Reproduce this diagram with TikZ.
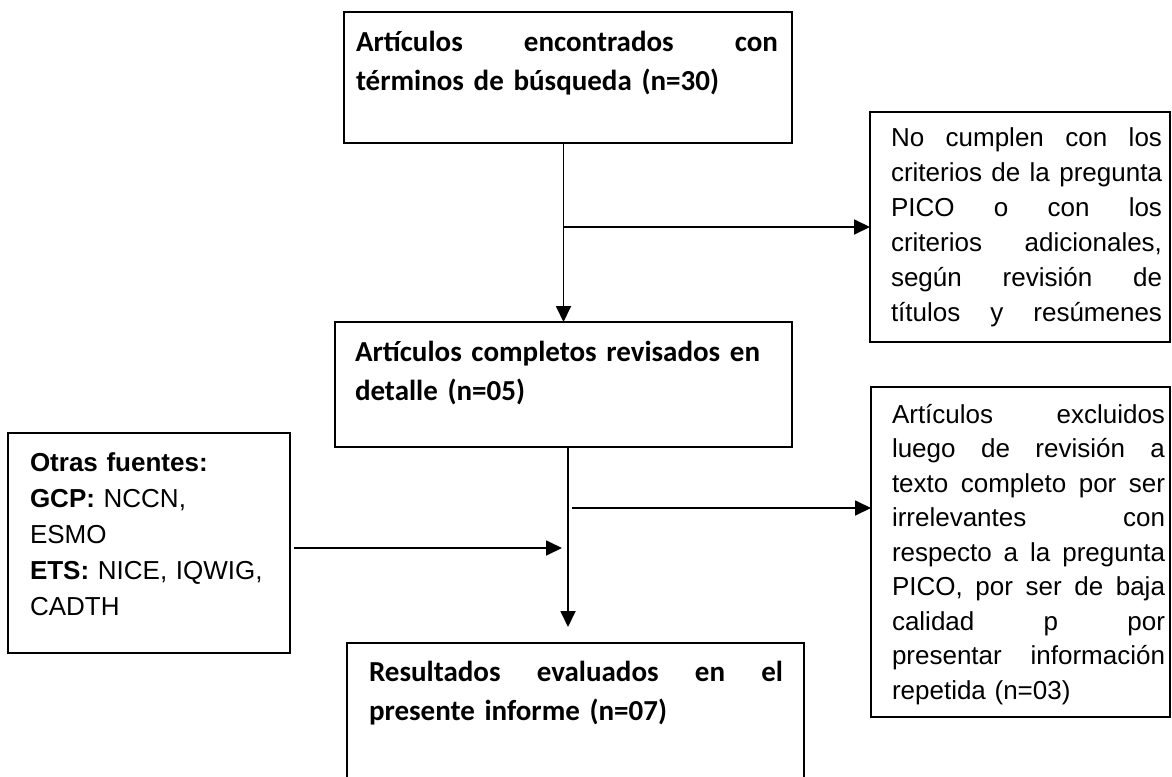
\documentclass[tikz,border=0pt]{standalone}
\usepackage{fontspec}
\setmainfont{Liberation Sans}
\newfontfamily\calibri{Carlito}
\usetikzlibrary{arrows.meta}
\newcommand{\jl}[2]{\leavevmode\hbox to #1{\strut #2}}
\begin{document}
\begin{tikzpicture}[x=1pt,y=-1pt,
  box/.style={draw, line width=1.8pt, rectangle, inner sep=0pt, outer sep=0pt, anchor=north west},
  arr/.style={line width=1.8pt, -{Triangle[length=16pt,width=15pt]}},
  txt/.style={anchor=north west, inner sep=0pt, outer sep=0pt, align=left},
  boldtxt/.style={txt, font=\calibri\bfseries\fontsize{29}{39}\selectfont},
  plaintxt/.style={txt, font=\fontsize{26}{35}\selectfont}]
\useasboundingbox (0,0) rectangle (1172,776);
\fill[white] (0,0) rectangle (1172,776);
\clip (0,0) rectangle (1172,776);
% boxes
\node[box, minimum width=448pt, minimum height=131pt] (b1) at (344,12) {};
\node[box, minimum width=457pt, minimum height=125pt] (b2) at (335,322) {};
\node[box, minimum width=457pt, minimum height=170pt] (b3) at (347,643) {};
\node[box, minimum width=300pt, minimum height=230pt] (r1) at (870,112) {};
\node[box, minimum width=299pt, minimum height=330pt] (r2) at (871,387) {};
\node[box, minimum width=282pt, minimum height=220pt] (o) at (8,433) {};
% texts
\node[boldtxt, text width=424pt] (t1) at (356,24.7)
  {\jl{422pt}{Artículos\hfill encontrados\hfill con}\\términos de búsqueda (n=30)};
\node[boldtxt, text width=440pt] (t2) at (355,333.7)
  {\strut Artículos completos revisados en\\detalle (n=05)};
\node[boldtxt, text width=420pt] (t3) at (369,653.7)
  {\jl{414pt}{Resultados\hfill evaluados\hfill en\hfill el}\\presente informe (n=07)};
\node[plaintxt, text width=275pt] (tr1) at (891,122)
  {\jl{271pt}{No\hfill cumplen\hfill con\hfill los}\\
   \jl{271pt}{criterios\hfill de\hfill la\hfill pregunta}\\
   \jl{271pt}{PICO\hfill o\hfill con\hfill los}\\
   \jl{271pt}{criterios\hfill adicionales,}\\
   \jl{271pt}{según\hfill revisión\hfill de}\\
   \jl{271pt}{títulos\hfill y\hfill resúmenes}};
\node[txt, font=\fontsize{26}{34.5}\selectfont, text width=277pt] (tr2) at (892,399.3)
  {\jl{273pt}{Artículos\hfill excluidos}\\
   \jl{273pt}{luego\hfill de\hfill revisión\hfill a}\\
   \jl{273pt}{texto\hfill completo\hfill por\hfill ser}\\
   \jl{273pt}{irrelevantes\hfill con}\\
   \jl{273pt}{respecto\hfill a\hfill la\hfill pregunta}\\
   \jl{273pt}{PICO,\hfill por\hfill ser\hfill de\hfill baja}\\
   \jl{273pt}{calidad\hfill p\hfill por}\\
   \jl{273pt}{presentar\hfill información}\\
   repetida (n=03)};
\node[txt, font=\fontsize{26}{36}\selectfont, text width=250pt] (to) at (30,445.8)
  {\strut\textbf{Otras fuentes:}\\
   \textbf{GCP:} NCCN,\\
   ESMO\\
   \textbf{ETS:} NICE, IQWIG,\\
   CADTH};
% connectors
\coordinate (j2) at (568,627);
\coordinate (s2) at (572,508);
\coordinate (s3) at (294,548);
\coordinate (j3) at (562,548);
\draw[arr] (b1.south -| b2.north) -- (b2.north);
\draw[arr] (r1.west -| b2.north) -- (r1.west);
\draw[arr] (b2.south -| j2) -- (j2);
\draw[arr] (s2) -- (s2 -| r2.west);
\draw[arr] (s3) -- (j3);
\end{tikzpicture}
\end{document}
